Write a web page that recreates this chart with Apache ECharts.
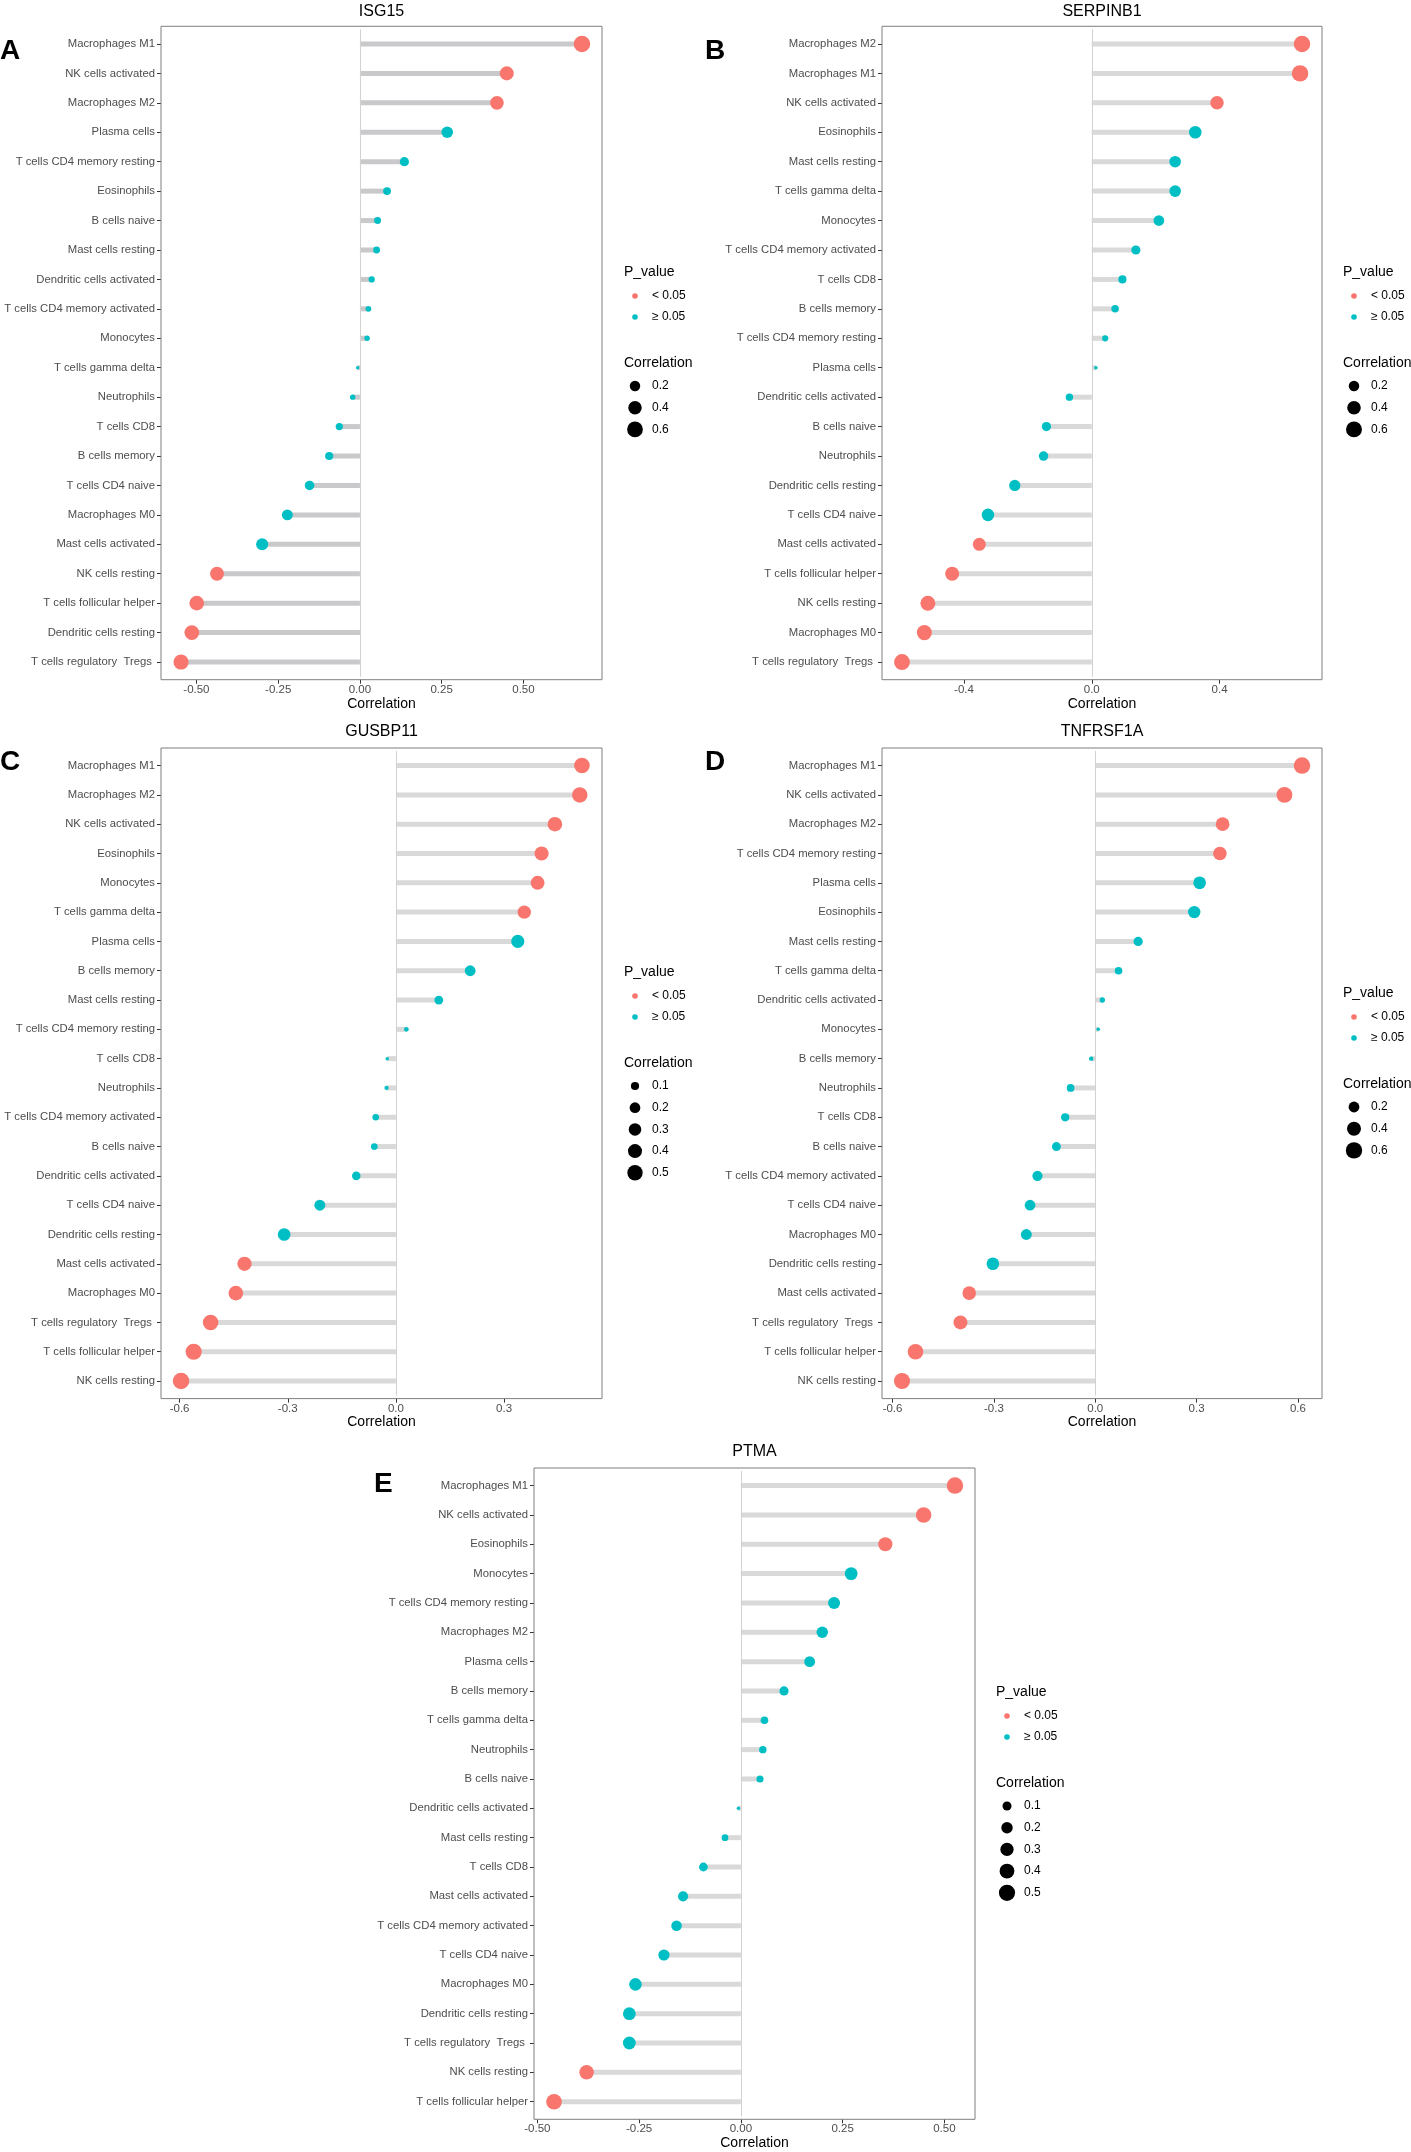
<!DOCTYPE html>
<html>
<head>
<meta charset="utf-8">
<title>Immune cell correlation lollipops</title>
<script src="https://cdn.jsdelivr.net/npm/echarts@6/dist/echarts.min.js"></script>
<style>
    html, body { margin: 0; padding: 0; background: #fff; }
    #main { width: 1411px; height: 2152px; }
</style>
</head>
<body>
<div id="main"></div>
<script>
// ---- data (top row first) ----
// A ISG15
var isg15Cells = ['Macrophages M1', 'NK cells activated', 'Macrophages M2', 'Plasma cells', 'T cells CD4 memory resting',
    'Eosinophils', 'B cells naive', 'Mast cells resting', 'Dendritic cells activated', 'T cells CD4 memory activated',
    'Monocytes', 'T cells gamma delta', 'Neutrophils', 'T cells CD8', 'B cells memory', 'T cells CD4 naive',
    'Macrophages M0', 'Mast cells activated', 'NK cells resting', 'T cells follicular helper', 'Dendritic cells resting',
    'T cells regulatory  Tregs '];
var isg15Cor = [0.679, 0.449, 0.419, 0.267, 0.136, 0.083, 0.054, 0.051, 0.036, 0.026, 0.022,
    -0.007, -0.022, -0.063, -0.094, -0.154, -0.222, -0.299, -0.437, -0.499, -0.514, -0.547];
var isg15Sig = [1, 1, 1, 0, 0, 0, 0, 0, 0, 0, 0, 0, 0, 0, 0, 0, 0, 0, 1, 1, 1, 1];
var isg15Ticks = [-0.5, -0.25, 0, 0.25, 0.5];
var isg15SizeBreaks = [0.2, 0.4, 0.6];

// B SERPINB1
var serpinb1Cells = ['Macrophages M2', 'Macrophages M1', 'NK cells activated', 'Eosinophils', 'Mast cells resting',
    'T cells gamma delta', 'Monocytes', 'T cells CD4 memory activated', 'T cells CD8', 'B cells memory',
    'T cells CD4 memory resting', 'Plasma cells', 'Dendritic cells activated', 'B cells naive', 'Neutrophils',
    'Dendritic cells resting', 'T cells CD4 naive', 'Mast cells activated', 'T cells follicular helper',
    'NK cells resting', 'Macrophages M0', 'T cells regulatory  Tregs '];
var serpinb1Cor = [0.658, 0.652, 0.392, 0.324, 0.261, 0.261, 0.210, 0.138, 0.096, 0.073, 0.042,
    0.013, -0.070, -0.142, -0.151, -0.241, -0.325, -0.352, -0.437, -0.513, -0.524, -0.594];
var serpinb1Sig = [1, 1, 1, 0, 0, 0, 0, 0, 0, 0, 0, 0, 0, 0, 0, 0, 0, 1, 1, 1, 1, 1];
var serpinb1Ticks = [-0.4, 0, 0.4];
var serpinb1SizeBreaks = [0.2, 0.4, 0.6];

// C GUSBP11
var gusbp11Cells = ['Macrophages M1', 'Macrophages M2', 'NK cells activated', 'Eosinophils', 'Monocytes',
    'T cells gamma delta', 'Plasma cells', 'B cells memory', 'Mast cells resting', 'T cells CD4 memory resting',
    'T cells CD8', 'Neutrophils', 'T cells CD4 memory activated', 'B cells naive', 'Dendritic cells activated',
    'T cells CD4 naive', 'Dendritic cells resting', 'Mast cells activated', 'Macrophages M0',
    'T cells regulatory  Tregs ', 'T cells follicular helper', 'NK cells resting'];
var gusbp11Cor = [0.516, 0.510, 0.441, 0.404, 0.393, 0.356, 0.338, 0.206, 0.119, 0.029, -0.024,
    -0.026, -0.056, -0.060, -0.110, -0.211, -0.310, -0.420, -0.444, -0.514, -0.561, -0.596];
var gusbp11Sig = [1, 1, 1, 1, 1, 1, 0, 0, 0, 0, 0, 0, 0, 0, 0, 0, 0, 1, 1, 1, 1, 1];
var gusbp11Ticks = [-0.6, -0.3, 0, 0.3];
var gusbp11SizeBreaks = [0.1, 0.2, 0.3, 0.4, 0.5];

// D TNFRSF1A
var tnfrsf1aCells = ['Macrophages M1', 'NK cells activated', 'Macrophages M2', 'T cells CD4 memory resting',
    'Plasma cells', 'Eosinophils', 'Mast cells resting', 'T cells gamma delta', 'Dendritic cells activated',
    'Monocytes', 'B cells memory', 'Neutrophils', 'T cells CD8', 'B cells naive', 'T cells CD4 memory activated',
    'T cells CD4 naive', 'Macrophages M0', 'Dendritic cells resting', 'Mast cells activated',
    'T cells regulatory  Tregs ', 'T cells follicular helper', 'NK cells resting'];
var tnfrsf1aCor = [0.612, 0.560, 0.377, 0.369, 0.309, 0.293, 0.127, 0.069, 0.021, 0.009, -0.012,
    -0.073, -0.089, -0.115, -0.171, -0.193, -0.204, -0.303, -0.373, -0.399, -0.532, -0.572];
var tnfrsf1aSig = [1, 1, 1, 1, 0, 0, 0, 0, 0, 0, 0, 0, 0, 0, 0, 0, 0, 0, 1, 1, 1, 1];
var tnfrsf1aTicks = [-0.6, -0.3, 0, 0.3, 0.6];
var tnfrsf1aSizeBreaks = [0.2, 0.4, 0.6];

// E PTMA
var ptmaCells = ['Macrophages M1', 'NK cells activated', 'Eosinophils', 'Monocytes', 'T cells CD4 memory resting',
    'Macrophages M2', 'Plasma cells', 'B cells memory', 'T cells gamma delta', 'Neutrophils', 'B cells naive',
    'Dendritic cells activated', 'Mast cells resting', 'T cells CD8', 'Mast cells activated',
    'T cells CD4 memory activated', 'T cells CD4 naive', 'Macrophages M0', 'Dendritic cells resting',
    'T cells regulatory  Tregs ', 'NK cells resting', 'T cells follicular helper'];
var ptmaCor = [0.526, 0.449, 0.355, 0.271, 0.229, 0.200, 0.169, 0.106, 0.058, 0.054, 0.047,
    -0.006, -0.039, -0.092, -0.142, -0.158, -0.189, -0.259, -0.274, -0.274, -0.379, -0.459];
var ptmaSig = [1, 1, 1, 0, 0, 0, 0, 0, 0, 0, 0, 0, 0, 0, 0, 0, 0, 0, 0, 0, 1, 1];
var ptmaTicks = [-0.5, -0.25, 0, 0.25, 0.5];
var ptmaSizeBreaks = [0.1, 0.2, 0.3, 0.4, 0.5];

var pLabels = ['< 0.05', '\u2265 0.05'];

// ---- layout (px) ----
var FONT = '"Liberation Sans", Arial, sans-serif';
var RED = '#F8766D', TEAL = '#00BFC4';

var panels = [
    {tag: 'A', gene: 'ISG15', cells: isg15Cells, cor: isg15Cor, sig: isg15Sig, ticks: isg15Ticks, dec: 2,
        breaks: isg15SizeBreaks, box: [161, 26.3, 602, 679.7], titleY: 12, letter: [0, 51], legend: [624, 272], stem: '#c9c9cb'},
    {tag: 'B', gene: 'SERPINB1', cells: serpinb1Cells, cor: serpinb1Cor, sig: serpinb1Sig, ticks: serpinb1Ticks, dec: 1,
        breaks: serpinb1SizeBreaks, box: [882, 26.3, 1322, 679.7], titleY: 12, letter: [705, 51], legend: [1343, 272], stem: '#d9d9d9'},
    {tag: 'C', gene: 'GUSBP11', cells: gusbp11Cells, cor: gusbp11Cor, sig: gusbp11Sig, ticks: gusbp11Ticks, dec: 1,
        breaks: gusbp11SizeBreaks, box: [161, 748, 602, 1398.6], titleY: 732, letter: [0, 762], legend: [624, 972], stem: '#d9d9d9'},
    {tag: 'D', gene: 'TNFRSF1A', cells: tnfrsf1aCells, cor: tnfrsf1aCor, sig: tnfrsf1aSig, ticks: tnfrsf1aTicks, dec: 1,
        breaks: tnfrsf1aSizeBreaks, box: [882, 748, 1322, 1398.6], titleY: 732, letter: [705, 762], legend: [1343, 993], stem: '#d9d9d9'},
    {tag: 'E', gene: 'PTMA', cells: ptmaCells, cor: ptmaCor, sig: ptmaSig, ticks: ptmaTicks, dec: 2,
        breaks: ptmaSizeBreaks, box: [534, 1468, 975, 2119.3], titleY: 1452, letter: [374, 1484], legend: [996, 1692], stem: '#d9d9d9'}
];

// point size like ggplot scale_size: area grows linearly with |r|
function sizeScale(cor) {
    var abs = cor.map(Math.abs);
    var lo = Math.min.apply(null, abs), hi = Math.max.apply(null, abs);
    return function (v) {
        var t = (Math.abs(v) - lo) / (hi - lo);
        t = Math.max(0, Math.min(1, t));
        return 3.5 + 13 * Math.sqrt(t);
    };
}

// 5% expansion like ggplot, stems start at 0
function xRange(cor) {
    var lo = Math.min(0, Math.min.apply(null, cor)), hi = Math.max(0, Math.max.apply(null, cor));
    var pad = (hi - lo) * 0.05;
    return [lo - pad, hi + pad];
}

var grids = [], xAxes = [], yAxes = [], series = [], graphics = [];

panels.forEach(function (p, k) {
    var n = p.cells.length;
    var left = p.box[0], top = p.box[1], right = p.box[2], bottom = p.box[3];
    var unit = (bottom - top) / (n - 1 + 1.2);
    var inset = unit * 0.1;
    var size = sizeScale(p.cor);
    var range = xRange(p.cor);

    grids.push({left: left, top: top + inset, width: right - left, height: bottom - top - 2 * inset});

    xAxes.push({
        type: 'value', gridIndex: k, min: range[0], max: range[1], offset: inset,
        axisLine: {show: false, onZero: false},
        axisTick: {show: true, length: 4, lineStyle: {color: '#333'}, customValues: p.ticks},
        axisLabel: {
            customValues: p.ticks, color: '#4d4d4d', fontSize: 11.5, fontFamily: FONT, margin: 4,
            formatter: (function (d) { return function (v) { return v.toFixed(d); }; })(p.dec)
        },
        splitLine: {show: false},
        name: 'Correlation', nameLocation: 'middle', nameGap: 17,
        nameTextStyle: {color: '#000', fontSize: 14, fontFamily: FONT}
    });

    // onZero off, otherwise the ticks jump to x = 0
    yAxes.push({
        type: 'category', gridIndex: k, data: p.cells, inverse: true,
        axisLine: {show: false, onZero: false},
        axisTick: {show: true, length: 4, alignWithLabel: true, lineStyle: {color: '#333'}},
        axisLabel: {interval: 0, color: '#4d4d4d', fontSize: 11.3, fontFamily: FONT, margin: 6},
        splitLine: {show: false}
    });

    // stems + zero line
    series.push({
        type: 'bar', xAxisIndex: k, yAxisIndex: k, data: p.cor, barWidth: 5,
        itemStyle: {color: p.stem}, silent: true, z: 1,
        markLine: {
            silent: true, symbol: ['none', 'none'], label: {show: false},
            lineStyle: {color: '#d2d2d2', width: 1, type: 'solid'},
            data: [{xAxis: 0}]
        }
    });

    // heads, split by p value
    [1, 0].forEach(function (flag, j) {
        var pts = [];
        p.cor.forEach(function (v, i) {
            if (p.sig[i] === flag) pts.push([v, i]);
        });
        series.push({
            name: pLabels[j], type: 'scatter', xAxisIndex: k, yAxisIndex: k, data: pts, z: 3,
            symbolSize: function (val) { return size(val[0]); },
            itemStyle: {color: flag ? RED : TEAL, opacity: 1}
        });
    });

    // panel border
    graphics.push({
        type: 'rect', silent: true, z: 10,
        shape: {x: left, y: top, width: right - left, height: bottom - top},
        style: {fill: 'none', stroke: '#7f7f7f', lineWidth: 1}
    });
    // gene title
    graphics.push({
        type: 'text', x: (left + right) / 2, y: p.titleY,
        style: {text: p.gene, fill: '#000', fontSize: 16, fontFamily: FONT, align: 'center', verticalAlign: 'middle'}
    });
    // panel letter
    graphics.push({
        type: 'text', x: p.letter[0], y: p.letter[1],
        style: {text: p.tag, fill: '#000', fontSize: 28, fontWeight: 'bold', fontFamily: FONT, align: 'left', verticalAlign: 'middle'}
    });

    // legends
    var lx = p.legend[0], ly = p.legend[1];
    graphics.push({
        type: 'text', x: lx, y: ly,
        style: {text: 'P_value', fill: '#000', fontSize: 14, fontFamily: FONT, verticalAlign: 'middle'}
    });
    [RED, TEAL].forEach(function (c, j) {
        var yy = ly + 24 + j * 21;
        graphics.push({type: 'circle', shape: {cx: lx + 11, cy: yy, r: 2.8}, style: {fill: c}});
        graphics.push({
            type: 'text', x: lx + 28, y: yy,
            style: {text: pLabels[j], fill: '#000', fontSize: 12, fontFamily: FONT, verticalAlign: 'middle'}
        });
    });
    graphics.push({
        type: 'text', x: lx, y: ly + 91,
        style: {text: 'Correlation', fill: '#000', fontSize: 14, fontFamily: FONT, verticalAlign: 'middle'}
    });
    p.breaks.forEach(function (b, j) {
        var yy = ly + 114 + j * 21.7;
        graphics.push({type: 'circle', shape: {cx: lx + 11, cy: yy, r: size(b) / 2}, style: {fill: '#000'}});
        graphics.push({
            type: 'text', x: lx + 28, y: yy,
            style: {text: String(b), fill: '#000', fontSize: 12, fontFamily: FONT, verticalAlign: 'middle'}
        });
    });
});

var myChart = echarts.init(document.getElementById('main'), null, {renderer: 'canvas'});
myChart.setOption({
    backgroundColor: '#fff',
    animation: false,
    grid: grids,
    xAxis: xAxes,
    yAxis: yAxes,
    series: series,
    graphic: graphics
});
</script>
</body>
</html>
